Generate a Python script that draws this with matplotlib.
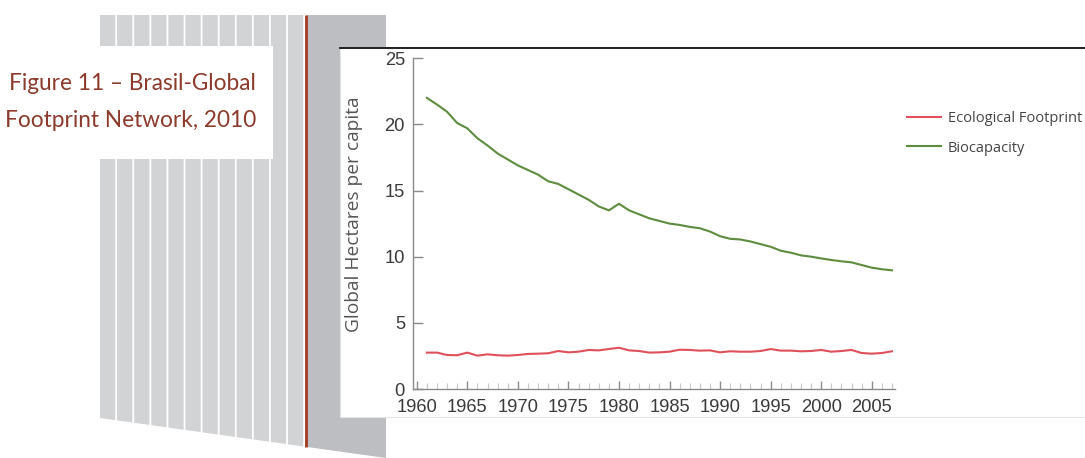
import matplotlib
matplotlib.use("Agg")
import matplotlib.pyplot as plt
from matplotlib.patches import Polygon, Rectangle
from matplotlib.ticker import MultipleLocator

# data (global hectares per capita, Brazil)
years = list(range(1961, 2008))
footprint = [2.75, 2.75, 2.57, 2.55, 2.75, 2.52, 2.62, 2.55, 2.52, 2.57,
             2.65, 2.67, 2.70, 2.87, 2.77, 2.82, 2.95, 2.92, 3.02, 3.12,
             2.92, 2.87, 2.75, 2.77, 2.82, 2.97, 2.95, 2.90, 2.92, 2.77,
             2.85, 2.82, 2.82, 2.87, 3.02, 2.90, 2.90, 2.85, 2.87, 2.95,
             2.82, 2.87, 2.95, 2.72, 2.67, 2.72, 2.85]
biocapacity = [22.0, 21.5, 20.95, 20.1, 19.7, 18.95, 18.4, 17.8, 17.35, 16.9,
               16.55, 16.2, 15.7, 15.5, 15.1, 14.7, 14.3, 13.8, 13.5, 14.0,
               13.5, 13.2, 12.9, 12.7, 12.5, 12.4, 12.25, 12.15, 11.9, 11.55,
               11.35, 11.3, 11.15, 10.95, 10.75, 10.45, 10.3, 10.1, 10.0, 9.87,
               9.75, 9.65, 9.57, 9.37, 9.17, 9.05, 8.97]
series_names = ["Ecological Footprint", "Biocapacity"]
title_lines = ["Figure 11 \u2013 Brasil-Global", "Footprint Network, 2010"]
ylabel = "Global Hectares per capita"

plt.rcParams["font.family"] = ["Liberation Sans", "DejaVu Sans"]

W, H = 1085, 458
fig = plt.figure(figsize=(W / 100, H / 100), dpi=100)

# decorative background in pixel coordinates
bg = fig.add_axes([0, 0, 1, 1])
bg.set_xlim(0, W)
bg.set_ylim(H, 0)
bg.axis("off")

def bottom(x):
    return 418 + (x - 100) * 0.14

light = "#d2d3d5"
dark = "#bdbec1"
n_str = 12
x0, x1 = 100, 305
sw = (x1 - x0) / n_str
for i in range(n_str):
    a = x0 + i * sw
    b = a + sw - 1.8
    bg.add_patch(Polygon([(a, 15), (b, 15), (b, bottom(b)), (a, bottom(a))],
                         closed=True, color=light, lw=0))
bg.add_patch(Polygon([(307, 15), (386, 15), (386, H), (307, bottom(307))],
                     closed=True, color=dark, lw=0))
bg.plot([306, 306], [15, bottom(306)], color="#a33a1e", lw=2.0,
        solid_capstyle="butt")
bg.add_patch(Rectangle((0, 46), 273, 113, color="white", lw=0))
bg.add_patch(Rectangle((340, 47), W - 340, 370, facecolor="white",
                       edgecolor="#e4e4e4", lw=0.8))
bg.plot([340, W], [48, 48], color="#111111", lw=1.3)

title_color = "#8c3a2b"
for txt, yb in zip(title_lines, [90, 127]):
    bg.text(256, yb, txt, ha="right", va="baseline", fontsize=16.3,
            color=title_color, family="Lato")
bg.text(354, 214, ylabel, rotation=90, ha="center", va="center",
        fontsize=13.8, color="#555555", family="Open Sans")

# chart
ax = fig.add_axes([413.3 / W, (H - 389) / H, (895 - 413.3) / W, (389 - 58.2) / H])
ax.patch.set_alpha(0)
ax.plot(years, footprint, color="#e0505a", lw=1.5, label=series_names[0])
ax.plot(years, biocapacity, color="#5e8c3e", lw=1.5, label=series_names[1])
ax.set_xlim(1959.66, 2007.3)
ax.set_ylim(0, 25)
ax.xaxis.set_major_locator(MultipleLocator(5))
ax.xaxis.set_minor_locator(MultipleLocator(1))
ax.yaxis.set_major_locator(MultipleLocator(5))
for s in ["top", "right"]:
    ax.spines[s].set_visible(False)
for s in ["left", "bottom"]:
    ax.spines[s].set_color("#8a8a8a")
    ax.spines[s].set_linewidth(1.0)
ax.tick_params(axis="y", direction="in", length=7, width=1.0, color="#8a8a8a",
               pad=6, labelsize=13.2, labelcolor="#3a3a3a")
ax.tick_params(axis="x", which="major", direction="in", length=6, width=1.0,
               color="#8a8a8a", pad=7, labelsize=13.2, labelcolor="#3a3a3a")
ax.tick_params(axis="x", which="minor", direction="in", length=4, width=0.8,
               color="#c8c8c8")

ax.legend(loc="upper left", bbox_to_anchor=(907 / W, 1 - 111 / H),
          bbox_transform=fig.transFigure, frameon=False,
          handlelength=2.3, handletextpad=0.5, labelspacing=1.0,
          borderpad=0, borderaxespad=0,
          prop={"family": "Open Sans", "size": 10.5}, labelcolor="#444444")

fig.savefig("out.png", dpi=100)
